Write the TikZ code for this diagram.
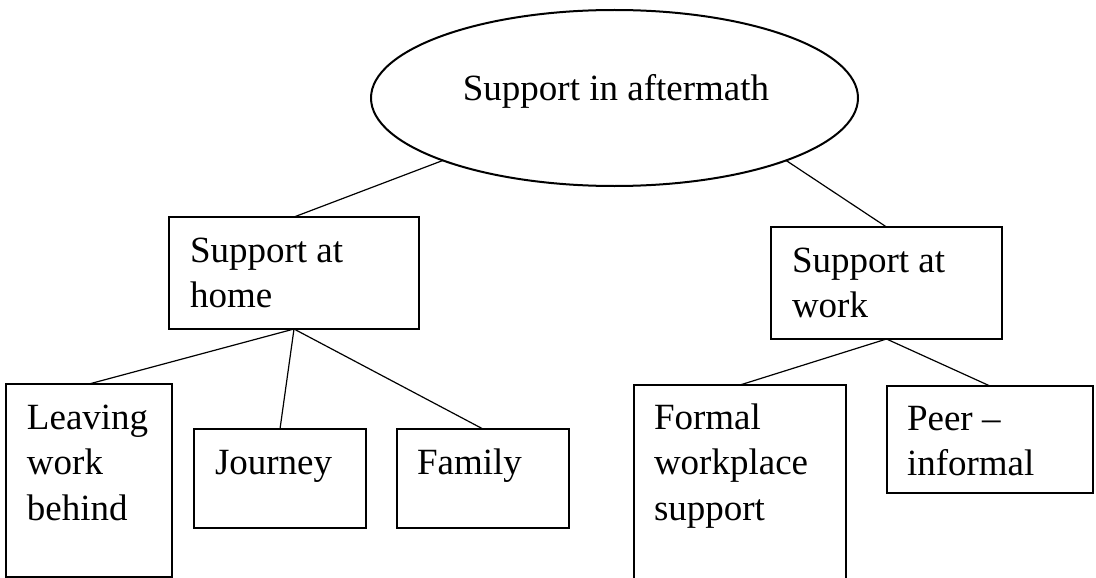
\documentclass[tikz,border=0pt]{standalone}
\usepackage{fontspec}
\setmainfont{Liberation Serif}
\usetikzlibrary{shapes.geometric}
\begin{document}
\begin{tikzpicture}[x=1pt,y=-1pt,
  box/.style={draw, line width=1.4pt, inner sep=0pt, outer sep=0pt, rectangle},
  oval/.style={draw, line width=2pt, ellipse, inner sep=0pt, outer sep=0pt},
  lbl/.style={inner sep=0pt, outer sep=0pt, align=left, anchor=north west,
    font={\fontsize{37}{45.5}\selectfont}},
  conn/.style={line width=1.2pt}]
\clip (0,0) rectangle (1096,578);
\fill[white] (0,0) rectangle (1096,578);
% top ellipse
\node[oval, minimum width=487pt, minimum height=176pt] (e) at (614.5,98) {};
\node[inner sep=0pt, anchor=base, font={\fontsize{37}{45.5}\selectfont}] (etxt) at (616,100) {Support in aftermath};
% boxes
\node[box, minimum width=250pt, minimum height=112pt] (home) at (294,273) {};
\node[box, minimum width=231pt, minimum height=112pt] (work) at (886.5,283) {};
\node[box, minimum width=166pt, minimum height=193pt] (leave) at (89,480.5) {};
\node[box, minimum width=172pt, minimum height=99pt] (journey) at (280,478.5) {};
\node[box, minimum width=172pt, minimum height=99pt] (family) at (483,478.5) {};
\node[box, minimum width=212pt, minimum height=215pt] (formal) at (740,492.5) {};
\node[box, minimum width=206pt, minimum height=107pt] (peer) at (990,439.5) {};
% labels (first baseline = y + 30)
\node[lbl] (homet) at (190,232) {\rule{0pt}{30pt}Support at\\home};
\node[lbl] (workt) at (792,242) {\rule{0pt}{30pt}Support at\\work};
\node[lbl] (leavet) at (27,399) {\rule{0pt}{30pt}Leaving\\work\\behind};
\node[lbl] (journeyt) at (215,444) {\rule{0pt}{30pt}Journey};
\node[lbl] (familyt) at (417,444) {\rule{0pt}{30pt}Family};
\node[lbl] (formalt) at (654,399) {\rule{0pt}{30pt}Formal\\workplace\\support};
\node[lbl] (peert) at (907,400) {\rule{0pt}{30pt}Peer –\\informal};
% connectors
\draw[conn] (e.200) -- (home.north);
\draw[conn] (e.-20) -- (work.north);
\draw[conn] (home.south) -- (leave.north);
\draw[conn] (home.south) -- (journey.north);
\draw[conn] (home.south) -- (family.north);
\draw[conn] (work.south) -- (formal.north);
\draw[conn] (work.south) -- (peer.north);
\end{tikzpicture}
\end{document}
